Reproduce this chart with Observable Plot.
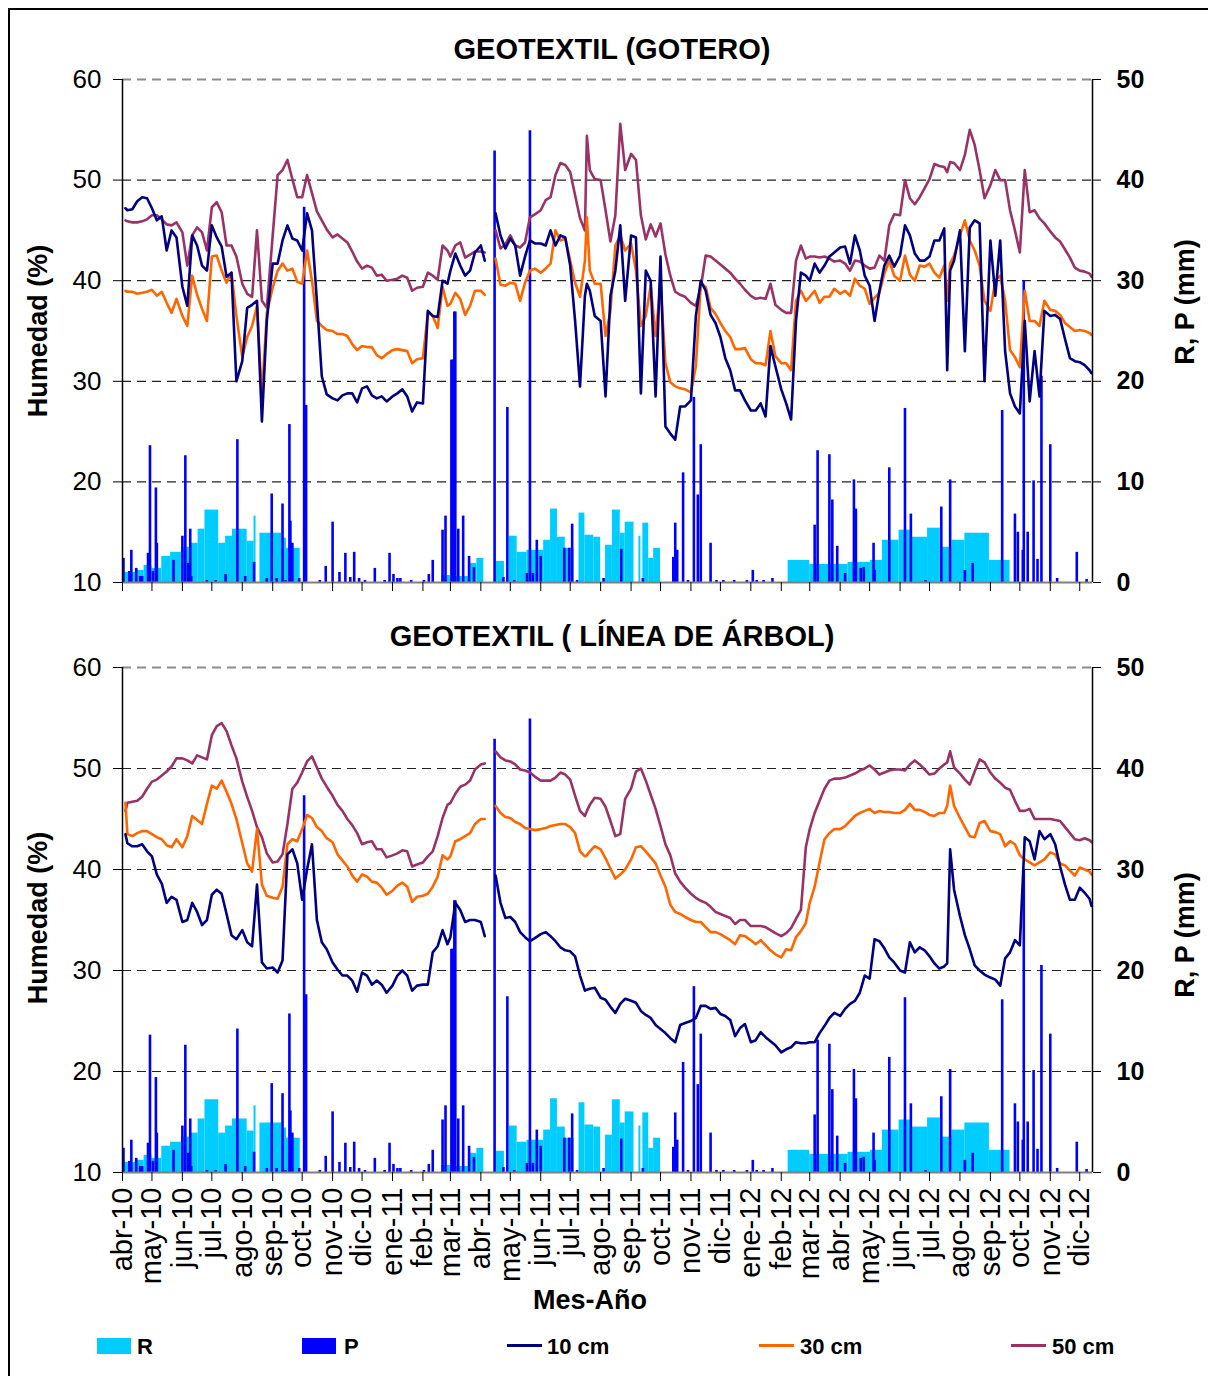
<!DOCTYPE html>
<html><head><meta charset="utf-8">
<script src="https://cdn.jsdelivr.net/npm/d3@7"></script>
<script src="https://cdn.jsdelivr.net/npm/@observablehq/plot@0.6"></script>
<style>
body{margin:0;background:#fff;font-family:"Liberation Sans",Arial,sans-serif;color:#000;}
#page{position:relative;width:1208px;height:1376px;overflow:hidden;background:#fff;}
#frame{position:absolute;left:8px;top:8px;width:1260px;height:1420px;border:2px solid #000;box-sizing:border-box;}
.abs{position:absolute;}
.svgbox{position:absolute;left:0;}
.title{position:absolute;left:0;width:1224px;text-align:center;font-weight:bold;font-size:29px;line-height:29px;}
.vlab{position:absolute;font-weight:bold;font-size:27px;line-height:27px;white-space:nowrap;transform:translate(-50%,-50%) rotate(-90deg);}
.xlab{position:absolute;font-weight:bold;font-size:27px;line-height:27px;white-space:nowrap;transform:translate(-50%,-50%);}
.leg{position:absolute;font-weight:bold;font-size:22px;line-height:22px;white-space:nowrap;transform:translateY(-50%);}
.sw{position:absolute;}
</style>
</head><body>
<div id="page"><div id="frame"></div></div>
<script>
// ---------- sampling dates (shared by both panels) ----------
const dates = [
"2010-04-04","2010-04-06","2010-04-11","2010-04-16","2010-04-21","2010-04-26",
"2010-05-01","2010-05-06","2010-05-11","2010-05-16","2010-05-21","2010-05-26",
"2010-06-01","2010-06-06","2010-06-11","2010-06-16","2010-06-21","2010-06-26",
"2010-07-01","2010-07-06","2010-07-11","2010-07-16","2010-07-21","2010-07-26",
"2010-08-01","2010-08-06","2010-08-11","2010-08-16","2010-08-21","2010-08-26",
"2010-09-01","2010-09-06","2010-09-11","2010-09-16","2010-09-21","2010-09-26",
"2010-10-01","2010-10-06","2010-10-11","2010-10-16","2010-10-21","2010-10-26",
"2010-11-01","2010-11-06","2010-11-11","2010-11-16","2010-11-21","2010-11-26",
"2010-12-01","2010-12-06","2010-12-11","2010-12-16","2010-12-21","2010-12-26",
"2011-01-01","2011-01-06","2011-01-11","2011-01-16","2011-01-21","2011-01-26",
"2011-02-01","2011-02-06","2011-02-11","2011-02-16","2011-02-21","2011-02-26",
"2011-03-01","2011-03-06","2011-03-11","2011-03-16","2011-03-21","2011-03-26",
"2011-04-01","2011-04-05","2011-04-11","2011-04-16","2011-04-21","2011-04-26",
"2011-05-01","2011-05-06","2011-05-11","2011-05-16","2011-05-21","2011-05-26",
"2011-06-01","2011-06-06","2011-06-11","2011-06-16","2011-06-21","2011-06-26",
"2011-07-01","2011-07-06","2011-07-11","2011-07-16","2011-07-18","2011-07-21","2011-07-26",
"2011-08-01","2011-08-06","2011-08-11","2011-08-16","2011-08-21","2011-08-26",
"2011-09-01","2011-09-06","2011-09-11","2011-09-16","2011-09-21","2011-09-26",
"2011-10-01","2011-10-06","2011-10-11","2011-10-16","2011-10-21","2011-10-26",
"2011-11-01","2011-11-06","2011-11-11","2011-11-16","2011-11-21","2011-11-26",
"2011-12-01","2011-12-06","2011-12-11","2011-12-16","2011-12-21","2011-12-26",
"2012-01-01","2012-01-06","2012-01-11","2012-01-16","2012-01-21","2012-01-26",
"2012-02-01","2012-02-06","2012-02-11","2012-02-16","2012-02-21","2012-02-26",
"2012-03-01","2012-03-06","2012-03-11","2012-03-16","2012-03-21","2012-03-26",
"2012-04-01","2012-04-06","2012-04-11","2012-04-16","2012-04-21","2012-04-26",
"2012-05-01","2012-05-06","2012-05-11","2012-05-16","2012-05-21","2012-05-26",
"2012-06-01","2012-06-06","2012-06-11","2012-06-16","2012-06-21","2012-06-26",
"2012-07-01","2012-07-06","2012-07-11","2012-07-16","2012-07-19","2012-07-22","2012-07-26",
"2012-08-01","2012-08-06","2012-08-11","2012-08-16","2012-08-21","2012-08-26",
"2012-09-01","2012-09-06","2012-09-11","2012-09-16","2012-09-21","2012-09-26",
"2012-10-01","2012-10-06","2012-10-11","2012-10-16","2012-10-21","2012-10-26",
"2012-11-01","2012-11-06","2012-11-11","2012-11-16","2012-11-21","2012-11-26",
"2012-12-01","2012-12-06","2012-12-11","2012-12-13"
];

// ---------- GEOTEXTIL (GOTERO) humidity (%) ----------
const gotero10 = [
47.2,47.0,47.1,47.9,48.3,48.2, 47.2,46.0,46.4,43.0,45.0,44.3, 39.4,37.5,44.5,43.5,41.5,41.0,
45.5,44.3,43.4,40.4,40.8,30.0, 32.0,37.3,37.6,38.0,26.0,36.0, 41.7,41.7,44.0,45.5,44.2,44.0,
43.0,46.7,45.0,38.0,30.5,28.7, 28.3,28.1,28.6,28.8,28.8,27.9, 29.3,29.5,28.6,28.3,28.5,28.0,
28.5,28.8,29.2,28.5,27.0,27.9, 27.8,37.0,36.5,36.4,40.0,39.7, 41.0,42.7,41.5,40.5,41.0,42.8,
43.5,42.0,null,46.7,44.5,43.2, 44.2,43.5,40.5,42.4,44.0,43.7, 43.7,43.5,45.0,43.5,44.5,44.3,
41.5,36.0,29.5,38.5,39.7,39.0,36.5, 36.0,28.5,38.5,41.0,45.5,38.0, 44.5,44.3,28.8,41.0,40.0,28.5,
42.4,25.5,24.8,24.2,27.5,27.5, 28.1,36.5,40.0,39.0,36.6,35.8, 34.4,32.3,31.1,29.1,29.1,28.1,
27.1,27.1,27.8,26.5,33.5,31.5, 29.2,27.8,26.2,36.0,40.8,40.5, 40.0,41.7,40.8,41.5,42.4,42.8,
43.3,43.4,41.7,44.5,43.0,40.5, 39.5,36.0,39.0,41.5,42.5,41.4, 42.5,45.5,44.5,42.7,42.0,42.0,
42.4,44.0,44.0,45.2,31.1,41.0,42.0, 45.0,33.0,45.3,46.0,45.7,30.0, 44.0,38.5,44.0,33.0,28.8,27.5,
26.8,36.0,28.0,33.0,28.5,37.0, 36.5,36.6,36.2,34.2,32.3,32.0, 31.9,31.6,31.1,30.8
];
const gotero30 = [
39.0,38.9,38.9,38.7,38.8,38.9, 39.1,38.5,38.9,37.8,36.8,38.2, 36.5,35.5,40.5,38.6,37.2,36.0,
42.4,42.5,41.0,39.8,40.8,36.5, 32.4,34.4,35.5,37.5,28.5,36.8, 39.3,41.0,41.7,41.0,41.2,39.9,
39.7,43.0,40.0,36.0,35.5,35.1, 35.0,34.7,34.7,34.5,33.7,33.1, 33.5,33.4,33.4,32.6,32.3,32.7,
33.1,33.2,33.1,33.0,31.8,32.2, 32.3,36.8,36.5,35.3,39.4,37.5, 37.7,38.8,38.2,36.6,37.5,39.0,
39.0,38.6,null,42.2,39.6,39.5, 39.8,39.7,38.0,39.8,41.0,41.2, 40.8,41.2,41.7,45.0,44.0,44.2,
42.0,39.8,38.4,42.0,46.3,41.0,39.7, 39.7,34.5,37.0,43.5,44.5,43.0, 43.7,41.0,35.5,36.5,39.5,34.5,
39.7,31.8,29.9,29.5,29.3,29.2, 28.9,31.5,39.7,39.4,37.3,36.7, 35.8,35.0,34.4,33.2,33.2,33.3,
32.2,31.8,31.8,31.6,35.0,32.5, 31.8,31.8,31.1,38.0,39.0,38.0, 38.4,39.0,37.8,38.4,38.4,39.2,
38.7,39.0,38.5,40.2,39.5,39.2, 37.7,38.3,38.8,40.7,42.0,40.5, 40.0,42.5,40.6,40.0,41.5,41.4,
41.7,40.8,40.3,41.5,38.0,41.7,42.5, 44.5,46.0,44.0,43.0,41.5,38.0, 37.0,40.0,40.5,38.0,33.1,32.4,
31.4,39.0,36.0,36.0,35.5,38.0, 37.1,37.0,36.6,35.8,35.4,35.0, 35.1,35.0,34.8,34.6
];
const gotero50 = [
46.0,45.9,45.8,45.8,45.9,46.1, 46.5,46.5,46.1,45.6,45.5,45.8, 44.8,41.5,44.5,45.3,44.8,43.0,
47.3,47.8,46.8,43.5,43.5,42.4, 39.7,38.7,38.4,45.0,38.0,37.3, 44.5,50.5,51.0,52.0,50.1,48.3,
48.3,50.5,48.7,46.9,46.0,45.1, 44.3,44.6,44.2,43.8,42.9,41.9, 41.2,41.5,41.3,40.5,40.6,40.0,
40.1,40.2,40.5,40.3,39.0,39.3, 39.4,40.8,40.5,40.1,43.5,43.0, 42.4,43.5,43.8,42.3,42.6,42.9,
42.9,42.8,null,45.0,43.2,43.6, 44.5,43.5,43.3,43.8,46.3,46.6, 47.0,48.0,48.3,50.5,51.7,51.5,
50.8,48.5,46.2,45.0,54.4,51.0,50.1, 50.0,47.0,43.9,46.5,55.6,51.0, 52.6,52.0,46.5,44.1,45.6,44.4,
45.7,42.6,40.5,38.9,38.6,38.4, 37.8,37.5,39.3,42.5,42.4,42.0, 41.6,41.2,40.8,40.2,39.7,39.1,
38.5,38.2,38.3,38.2,39.7,37.6, 37.1,36.8,36.8,42.0,43.5,42.2, 42.4,42.4,42.3,42.4,42.2,41.9,
42.0,41.7,41.0,42.0,41.9,41.5, 41.2,41.3,42.5,42.0,45.5,46.6, 46.5,50.0,48.2,47.6,48.3,49.2,
50.1,51.6,51.4,51.3,50.8,51.8,51.7, 51.0,52.5,55.0,53.5,51.0,48.2, 49.5,51.0,50.0,50.0,47.0,45.0,
42.8,51.0,46.8,47.0,46.2,45.7, 44.9,44.3,43.9,43.1,42.3,41.3, 41.0,40.9,40.7,40.4
];

// ---------- GEOTEXTIL (LÍNEA DE ÁRBOL) humidity (%) ----------
const arbol10 = [
43.5,42.6,42.3,42.3,42.5,41.8, 41.3,39.5,38.6,36.7,37.3,37.0, 34.8,35.0,36.7,35.8,34.5,35.0,
37.5,38.0,37.6,35.6,33.5,33.1, 34.0,32.8,32.4,38.5,30.8,30.2, 30.3,29.8,31.0,41.5,42.0,40.6,
37.0,40.0,42.5,35.0,32.8,32.1, 30.8,30.1,29.5,29.5,29.0,27.9, 29.8,29.5,28.6,29.0,28.6,27.8,
28.5,29.5,30.0,29.5,28.0,28.5, 28.6,28.6,31.8,32.4,34.0,32.6, 33.3,36.7,36.0,34.8,35.0,35.0,
34.8,33.4,null,39.4,36.7,35.2, 35.3,34.8,33.8,33.3,32.9,33.2, 33.6,33.8,33.4,32.9,32.3,32.0,
31.9,31.4,29.5,28.0,28.1,28.2,28.3, 27.3,27.1,26.4,25.8,26.7,27.2, 27.0,26.8,26.0,25.6,25.3,24.6,
24.2,23.8,23.3,22.9,24.6,24.8, 25.0,25.3,26.5,26.5,26.2,26.3, 25.7,25.5,25.1,23.5,24.3,24.7,
22.9,23.1,23.9,23.4,23.0,22.6, 21.9,22.2,22.4,22.9,22.8,22.8, 22.9,22.9,23.8,24.5,25.3,25.8,
25.5,26.2,26.7,27.0,27.8,29.5, 29.2,33.1,32.9,32.2,31.3,30.8, 30.0,29.8,32.8,31.8,32.3,32.0,
31.4,30.7,30.2,30.4,30.7,42.0,38.0, 35.4,33.5,32.1,30.5,30.0,29.6, 29.3,29.1,28.5,31.2,31.8,33.0,
32.5,43.2,42.8,41.0,43.8,43.0, 43.5,42.5,40.3,38.5,37.0,37.0, 38.2,37.7,37.1,36.4
];
const arbol30 = [
46.6,43.5,43.3,43.6,43.8,43.8, 43.5,43.2,43.0,42.4,42.2,43.0, 42.2,43.3,45.3,44.9,44.5,46.5,
48.3,48.0,48.8,47.7,46.5,45.0, 42.6,40.6,39.8,44.0,38.5,37.4, 37.2,37.1,38.3,42.5,43.0,42.8,
44.0,45.4,45.1,44.2,43.8,43.1, 42.7,41.5,40.9,40.3,39.4,38.8, 39.5,39.3,38.8,38.7,38.2,37.5,
37.9,38.4,38.7,38.3,36.8,37.3, 37.4,37.6,38.3,39.3,41.4,41.0, 41.3,42.8,43.0,43.3,43.6,44.5,
45.0,45.0,null,46.3,45.6,45.2, 45.1,44.7,44.5,44.1,44.0,43.9, 44.0,44.1,44.3,44.4,44.5,44.5,
44.2,43.6,41.8,41.3,41.4,41.8,42.3, 42.0,41.1,40.1,39.1,39.5,40.0, 41.0,42.2,42.3,41.8,41.2,40.6,
39.4,38.3,36.5,35.8,35.6,35.3, 35.0,34.8,34.8,34.3,33.8,33.8, 33.6,33.3,33.0,32.6,33.5,33.4,
33.0,32.6,33.0,32.5,32.0,31.6, 31.3,32.1,32.0,33.3,33.9,34.7, 36.7,38.3,40.7,43.0,43.6,44.0,
44.0,44.3,44.8,45.3,45.6,45.8, 46.0,45.6,45.8,45.7,45.7,45.6, 45.6,45.9,46.5,45.9,45.9,45.7,
45.4,45.3,45.6,45.6,46.3,48.3,46.3, 45.1,44.2,43.3,43.2,44.6,44.8, 43.8,43.7,43.5,42.3,42.8,42.5,
41.4,41.0,40.7,40.4,40.7,41.0, 41.7,41.5,40.6,40.4,39.9,39.4, 40.2,40.0,39.8,39.5
];
const arbol50 = [
45.8,46.6,46.7,46.8,47.2,48.0, 48.7,48.9,49.3,49.7,50.2,51.0, 51.0,50.8,50.5,51.3,51.1,50.9,
53.3,54.2,54.5,53.7,52.3,51.0, 48.7,47.2,45.8,44.2,43.2,41.6, 40.7,40.8,41.5,44.5,48.0,48.6,
49.6,50.7,51.2,50.1,49.0,48.2, 47.3,46.4,45.8,45.0,44.4,43.6, 42.5,42.7,42.8,42.0,42.0,41.2,
41.4,41.6,41.9,41.8,40.3,40.5, 40.7,41.3,41.8,43.3,45.1,46.4, 46.6,47.5,48.2,48.4,48.8,49.9,
50.4,50.5,null,51.7,51.1,50.8, 50.7,50.4,49.9,49.8,49.6,49.2, 48.8,48.8,48.8,49.1,49.6,49.4,
48.9,47.3,45.8,45.3,45.8,46.4,47.1, 47.0,46.2,44.8,43.3,43.5,47.0, 48.0,49.7,50.0,48.8,47.4,46.0,
44.3,42.5,41.4,39.6,38.8,38.2, 37.6,37.2,36.9,36.7,36.3,35.8, 35.6,35.4,35.2,34.6,35.0,35.0,
34.4,34.4,34.4,34.3,34.0,33.7, 33.4,33.7,34.2,35.1,36.0,42.2, 44.0,45.6,46.8,48.0,48.8,49.0,
49.0,49.1,49.3,49.5,49.8,50.0, 50.3,49.9,49.4,49.6,49.8,49.9, 49.9,49.8,50.4,50.8,50.4,49.9,
49.4,49.5,50.0,50.4,50.6,51.7,50.1, 49.5,48.9,48.4,49.7,50.9,50.6, 49.6,49.0,48.6,48.1,47.9,46.8,
45.8,45.8,46.0,45.0,45.0,45.0, 45.0,44.9,44.8,44.2,43.6,43.0, 42.9,43.1,42.9,42.7
];

// ---------- R (riego, mm) : blocks ----------
const rStart = ["2010-04-03","2010-04-16","2010-04-23","2010-05-01","2010-05-11","2010-05-20","2010-05-31","2010-06-09","2010-06-17","2010-06-24","2010-07-08","2010-07-15","2010-07-22","2010-08-06","2010-08-13","2010-08-19","2010-09-10","2010-09-15",
"2011-02-20","2011-03-01","2011-03-20","2011-03-28","2011-04-17","2011-04-30","2011-05-08","2011-05-18","2011-06-04","2011-06-11","2011-06-18","2011-06-26","2011-07-10","2011-07-16","2011-07-25","2011-08-06","2011-08-13","2011-08-21","2011-08-26","2011-09-09","2011-09-13","2011-09-19","2011-09-24",
"2012-02-08","2012-03-01","2012-04-09","2012-05-02","2012-05-14","2012-05-31","2012-06-13","2012-06-29","2012-07-12","2012-07-24","2012-08-06","2012-08-31"];
const rEnd = ["2010-04-16","2010-04-23","2010-05-01","2010-05-11","2010-05-20","2010-05-31","2010-06-09","2010-06-17","2010-06-24","2010-07-08","2010-07-15","2010-07-22","2010-08-06","2010-08-13","2010-08-15","2010-09-10","2010-09-15","2010-09-29",
"2011-03-01","2011-03-20","2011-03-28","2011-04-04","2011-04-25","2011-05-08","2011-05-18","2011-06-04","2011-06-11","2011-06-18","2011-06-26","2011-07-05","2011-07-16","2011-07-25","2011-08-01","2011-08-13","2011-08-21","2011-08-26","2011-09-04","2011-09-11","2011-09-19","2011-09-24","2011-10-01",
"2012-03-01","2012-04-09","2012-05-02","2012-05-14","2012-05-31","2012-06-13","2012-06-29","2012-07-12","2012-07-24","2012-08-06","2012-08-31","2012-09-21"];
const rValue = [1.0,1.2,1.7,1.4,2.6,3.0,3.5,3.9,5.3,7.2,3.9,4.6,5.3,4.1,6.6,4.9,4.4,3.4,
0.7,0.6,1.9,2.4,2.1,4.6,3.0,3.2,4.2,7.3,4.5,3.4,6.9,4.7,4.5,3.7,7.2,4.9,6.0,4.6,5.9,2.4,3.4,
2.2,1.8,2.0,2.2,4.2,5.2,4.5,5.4,3.5,4.2,4.9,2.2];

// ---------- P (precipitación, mm) : daily ----------
const pDate = ["2010-04-02","2010-04-08","2010-04-10","2010-04-15","2010-04-19","2010-04-21","2010-04-27","2010-04-29","2010-05-02","2010-05-05","2010-05-06","2010-05-23","2010-06-01","2010-06-04","2010-06-07","2010-06-09","2010-06-10","2010-06-26","2010-07-05","2010-07-15","2010-07-27","2010-08-04","2010-08-13","2010-08-26","2010-08-31","2010-09-05","2010-09-11","2010-09-14","2010-09-18","2010-09-19","2010-09-21","2010-09-28","2010-10-03","2010-10-05","2010-10-19","2010-10-25","2010-11-01","2010-11-08","2010-11-14","2010-11-19","2010-11-23","2010-11-28","2010-12-04","2010-12-14","2010-12-24","2010-12-29",
"2011-01-02","2011-01-06","2011-01-09","2011-01-20","2011-02-02","2011-02-07","2011-02-11","2011-02-21","2011-02-24","2011-03-02","2011-03-03","2011-03-04","2011-03-05","2011-03-06","2011-03-09","2011-03-14","2011-03-20","2011-03-25","2011-04-15","2011-04-24","2011-04-28","2011-05-05","2011-05-18","2011-05-21","2011-05-24","2011-05-28","2011-06-01","2011-06-25","2011-06-30","2011-07-03","2011-07-08","2011-08-04","2011-08-22","2011-09-13","2011-10-14","2011-10-16","2011-10-18","2011-10-24","2011-10-29","2011-11-04","2011-11-08","2011-11-11","2011-11-21","2011-11-27","2011-12-04","2011-12-15","2011-12-28",
"2012-01-03","2012-01-07","2012-01-14","2012-01-23","2012-03-06","2012-03-09","2012-03-21","2012-03-24","2012-03-29","2012-04-06","2012-04-15","2012-04-17","2012-04-22","2012-04-25","2012-05-05","2012-05-06","2012-05-21","2012-06-06","2012-06-12","2012-06-27","2012-07-13","2012-07-22","2012-08-06","2012-08-14","2012-09-13","2012-09-26","2012-09-29","2012-10-04","2012-10-05","2012-10-09","2012-10-15","2012-10-19","2012-10-23","2012-11-01","2012-11-08","2012-11-28","2012-12-08"];
const pValue = [2.4,1.1,3.2,1.4,0.6,0.6,2.9,13.6,1.1,9.4,3.9,2.2,4.6,12.6,1.9,5.3,0.6,0.2,0.2,0.8,14.2,0.6,2.0,0.4,8.8,0.4,7.8,0.2,15.7,6.1,3.9,0.4,37.3,17.6,0.2,1.6,6.0,1.0,2.9,0.5,3.0,0.4,0.2,1.4,0.2,2.9,
0.8,0.4,0.4,0.2,0.2,0.8,2.2,5.2,6.6,22.1,22.1,22.1,26.9,26.9,5.3,6.6,2.6,1.5,42.9,0.5,17.4,0.2,0.9,44.9,0.9,4.2,2.6,3.4,3.4,5.8,0.2,0.4,3.3,0.4,2.5,5.9,3.2,10.9,0.2,18.4,8.7,13.7,3.9,0.2,0.2,0.2,0.2,
1.2,0.2,0.2,0.4,5.7,13.1,12.7,8.2,3.6,0.9,10.2,7.3,1.4,1.5,3.9,1.2,11.4,17.3,6.8,0.2,7.5,10.2,1.2,1.9,17.1,6.8,5.0,3.2,30.0,5.0,10.1,2.3,20.5,13.7,0.4,3.0,0.3];

// ---------- axis ticks ----------
const monthTicks = ["2010-04-01","2010-05-01","2010-06-01","2010-07-01","2010-08-01","2010-09-01","2010-10-01","2010-11-01","2010-12-01","2011-01-01","2011-02-01","2011-03-01","2011-04-01","2011-05-01","2011-06-01","2011-07-01","2011-08-01","2011-09-01","2011-10-01","2011-11-01","2011-12-01","2012-01-01","2012-02-01","2012-03-01","2012-04-01","2012-05-01","2012-06-01","2012-07-01","2012-08-01","2012-09-01","2012-10-01","2012-11-01","2012-12-01"];
const monthLabels = ["abr-10","may-10","jun-10","jul-10","ago-10","sep-10","oct-10","nov-10","dic-10","ene-11","feb-11","mar-11","abr-11","may-11","jun-11","jul-11","ago-11","sep-11","oct-11","nov-11","dic-11","ene-12","feb-12","mar-12","abr-12","may-12","jun-12","jul-12","ago-12","sep-12","oct-12","nov-12","dic-12"];
const humTicks = [10,20,30,40,50,60];
const xDomainStr = ["2010-04-01","2012-12-14"];

// ---------- checks ----------
[gotero10,gotero30,gotero50,arbol10,arbol30,arbol50].forEach((a,k)=>{ if(a.length!==dates.length) throw new Error("series "+k+" length "+a.length+" vs "+dates.length); });
if(rStart.length!==rValue.length||rEnd.length!==rValue.length) throw new Error("R lengths");
if(pDate.length!==pValue.length) throw new Error("P lengths "+pDate.length+" "+pValue.length);

const C10 = "#000080", C30 = "#FF6600", C50 = "#993366", CR = "#00CCFF", CP = "#0000FF";
const xDomain = xDomainStr.map(s => new Date(s));
const tickDates = monthTicks.map(s => new Date(s));
const labelMap = new Map(tickDates.map((d,i)=>[+d, monthLabels[i]]));
// R and P share the same pixels as the humidity axis: mm 0..50 <-> % 10..60 (right axis)
const rRows = rValue.map((v,i)=>({start:new Date(rStart[i]), end:new Date(rEnd[i]), top:v+10}));
const pRows = pValue.map((v,i)=>({date:new Date(pDate[i]), top:v+10}));
const rows = vals => dates.map((s,i)=>({date:new Date(s), v: vals[i]==null ? NaN : vals[i]}));

function panel(s10, s30, s50, withLabels, height, marginTop, marginBottom){
  const svg = Plot.plot({
    width:1208, height, marginLeft:122, marginRight:116, marginTop, marginBottom,
    style:{fontFamily:'"Liberation Sans", Arial, sans-serif', fontSize:"26px", background:"transparent", color:"#000", overflow:"visible"},
    x:{type:"utc", domain:xDomain, label:null},
    y:{domain:[10,60], label:null},
    marks:[
      Plot.ruleY([20,30,40,50], {stroke:"#222", strokeDasharray:"9,6", strokeWidth:1.2}),
      Plot.ruleY([60], {stroke:"#8c8c8c", strokeDasharray:"9,6", strokeWidth:2}),
      Plot.rect(rRows, {x1:"start", x2:"end", y1:10, y2:"top", fill:CR}),
      Plot.ruleX(pRows, {x:"date", y1:10, y2:"top", stroke:CP, strokeWidth:2.6}),
      Plot.ruleY([10], {stroke:"#808080", strokeWidth:2}),
      Plot.line(rows(s50), {x:"date", y:"v", stroke:C50, strokeWidth:2.6}),
      Plot.line(rows(s30), {x:"date", y:"v", stroke:C30, strokeWidth:2.6}),
      Plot.line(rows(s10), {x:"date", y:"v", stroke:C10, strokeWidth:2.6}),
      Plot.ruleX(xDomain, {stroke:"#000", strokeWidth:1.5}),
      Plot.axisY({anchor:"left", ticks:humTicks, tickSize:9, tickPadding:12, label:null, fontSize:26}),
      Plot.axisY({anchor:"right", ticks:humTicks, tickFormat:d=>String(d-10), tickSize:8, tickPadding:16, label:null, fontSize:25, fontWeight:"bold"}),
      Plot.axisX({ticks:tickDates, tickSize:9, tickPadding:6, label:null, fontSize:29,
        tickRotate: withLabels ? -90 : 0,
        tickFormat: withLabels ? (d => labelMap.get(+d)) : (() => "")})
    ]
  });
  d3.select(svg).selectAll("text").filter(function(){return this.getAttribute("text-anchor")==="start" || (this.parentNode && this.parentNode.getAttribute("text-anchor")==="start");}).attr("font-weight","bold");
  return svg;
}

const page = document.getElementById("page");
function place(el, top){ const w=document.createElement("div"); w.className="svgbox"; w.style.top=top+"px"; w.appendChild(el); page.appendChild(w); }
place(panel(gotero10,gotero30,gotero50,false,600,79,18), 0);
place(panel(arbol10,arbol30,arbol50,true,732,79,148), 588);

function addDiv(cls, text, css){ const d=document.createElement("div"); d.className=cls; d.textContent=text; Object.assign(d.style, css); page.appendChild(d); return d; }
addDiv("title","GEOTEXTIL (GOTERO)",{top:"35px"});
addDiv("title","GEOTEXTIL ( LÍNEA DE ÁRBOL)",{top:"622px"});
addDiv("vlab","Humedad (%)",{left:"38px",top:"331px"});
addDiv("vlab","Humedad (%)",{left:"38px",top:"918px"});
addDiv("vlab","R, P (mm)",{left:"1185px",top:"302px"});
addDiv("vlab","R, P (mm)",{left:"1185px",top:"935px"});
addDiv("xlab","Mes-Año",{left:"590px",top:"1300px"});

// legend
const legend = [
  {type:"box", color:CR, label:"R", x:97, tx:137},
  {type:"box", color:CP, label:"P", x:302, tx:344},
  {type:"line", color:C10, label:"10 cm", x:507, tx:547},
  {type:"line", color:C30, label:"30 cm", x:759, tx:800},
  {type:"line", color:C50, label:"50 cm", x:1011, tx:1052}
];
legend.forEach(it=>{
  const s=document.createElement("div"); s.className="sw";
  if(it.type==="box"){ Object.assign(s.style,{left:it.x+"px",top:"1338px",width:"34px",height:"16px",background:it.color}); }
  else { Object.assign(s.style,{left:it.x+"px",top:"1344px",width:"35px",height:"3px",background:it.color}); }
  page.appendChild(s);
  addDiv("leg", it.label, {left:it.tx+"px", top:"1347px"});
});
</script>
</body></html>
